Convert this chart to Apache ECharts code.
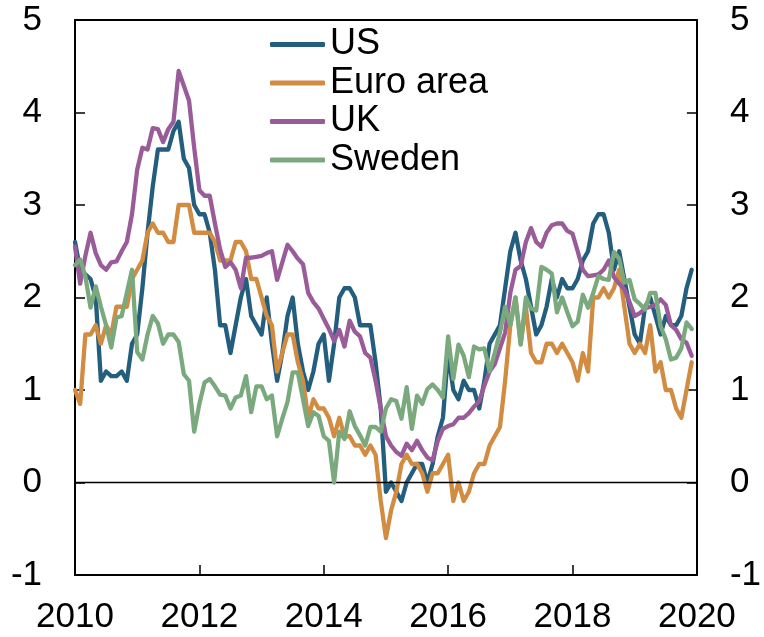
<!DOCTYPE html>
<html>
<head>
<meta charset="utf-8">
<script src="https://cdn.jsdelivr.net/npm/echarts@6/dist/echarts.min.js"></script>
<style>
  html, body { margin: 0; padding: 0; background: #ffffff; }
  #chart { width: 764px; height: 637px; }
</style>
</head>
<body>
<div id="chart"></div>
<script>
// monthly inflation, Jan 2010 .. Dec 2019 (per cent, year on year)
const startYear = 2010;
const yearTicks = ["2010", "2012", "2014", "2016", "2018", "2020"];
const valueTicks = [-1, 0, 1, 2, 3, 4, 5];

const us = [
  2.6, 2.3, 2.25, 2.2, 2.0, 1.1, 1.2, 1.15, 1.15, 1.2, 1.1, 1.5,
  1.6, 2.1, 2.7, 3.2, 3.6, 3.6, 3.6, 3.8, 3.9, 3.5, 3.4, 3.0,
  2.9, 2.9, 2.7, 2.3, 1.7, 1.7, 1.4, 1.7, 2.0, 2.2, 1.8, 1.7,
  1.6, 2.0, 1.5, 1.1, 1.4, 1.8, 2.0, 1.5, 1.2, 1.0, 1.2, 1.5,
  1.6, 1.1, 1.5, 2.0, 2.1, 2.1, 2.0, 1.7, 1.7, 1.7, 1.3, 0.8,
  -0.1, 0.0, -0.1, -0.2, 0.0, 0.1, 0.2, 0.2, 0.0, 0.2, 0.5, 0.7,
  1.4, 1.0, 0.9, 1.1, 1.0, 1.0, 0.8, 1.1, 1.5, 1.6, 1.7, 2.1,
  2.5, 2.7, 2.4, 2.2, 1.9, 1.6, 1.7, 1.9, 2.2, 2.0, 2.2, 2.1,
  2.1, 2.2, 2.4, 2.5, 2.8, 2.9, 2.9, 2.7, 2.3, 2.5, 2.2, 1.9,
  1.6, 1.5, 1.9, 2.0, 1.8, 1.6, 1.8, 1.7, 1.7, 1.8, 2.1, 2.3
];

const euroArea = [
  1.0, 0.85, 1.6, 1.6, 1.7, 1.5, 1.7, 1.6, 1.9, 1.9, 1.9, 2.2,
  2.3, 2.4, 2.7, 2.8, 2.7, 2.7, 2.6, 2.6, 3.0, 3.0, 3.0, 2.7,
  2.7, 2.7, 2.7, 2.6, 2.4, 2.4, 2.4, 2.6, 2.6, 2.5, 2.2, 2.2,
  2.0, 1.8, 1.7, 1.2, 1.4, 1.6, 1.6, 1.3, 1.1, 0.7, 0.9, 0.8,
  0.8, 0.7, 0.5, 0.7, 0.5, 0.5, 0.4, 0.4, 0.3, 0.4, 0.3, -0.2,
  -0.6, -0.3, -0.1, 0.2, 0.3, 0.2, 0.2, 0.1, -0.1, 0.1, 0.1, 0.2,
  0.3, -0.2, 0.0, -0.2, -0.1, 0.1, 0.2, 0.2, 0.4, 0.5, 0.6, 1.1,
  1.7, 2.0, 1.5, 1.9, 1.4, 1.3, 1.3, 1.5, 1.5, 1.4, 1.5, 1.4,
  1.3, 1.1, 1.4, 1.2, 2.0, 2.0, 2.1, 2.0, 2.1, 2.3, 1.9, 1.5,
  1.4, 1.5, 1.4, 1.7, 1.2, 1.3, 1.0, 1.0, 0.8, 0.7, 1.0, 1.3
];

const uk = [
  2.55, 2.15, 2.45, 2.7, 2.48, 2.35, 2.3, 2.38, 2.39, 2.5, 2.6, 2.9,
  3.38, 3.62, 3.6, 3.83, 3.82, 3.68, 3.82, 3.9, 4.45, 4.29, 4.13, 3.62,
  3.16, 3.1, 3.1, 2.8, 2.52, 2.33, 2.38, 2.3, 2.1, 2.43, 2.43, 2.44,
  2.45, 2.48, 2.5, 2.19, 2.38, 2.57, 2.5, 2.42, 2.36, 2.05, 1.95, 1.88,
  1.77, 1.66, 1.53, 1.65, 1.47, 1.75, 1.63, 1.58, 1.4, 1.35, 1.1, 0.8,
  0.5, 0.4, 0.33, 0.29, 0.42, 0.35, 0.45, 0.35, 0.27, 0.24, 0.45, 0.58,
  0.61, 0.63, 0.7, 0.7, 0.75, 0.82, 0.88, 1.05, 1.2, 1.28, 1.45, 1.62,
  2.05, 2.3, 2.34, 2.6, 2.75, 2.6, 2.55, 2.7, 2.78, 2.8, 2.8, 2.72,
  2.69, 2.5, 2.3, 2.23, 2.24, 2.25, 2.3, 2.4, 2.22, 2.15, 2.09, 1.95,
  1.8, 1.83, 1.88, 1.9, 1.92, 1.98, 1.92, 1.7, 1.65, 1.55, 1.51, 1.37
];

const sweden = [
  2.35, 2.41, 2.23, 1.89, 2.12, 1.9, 1.7, 1.46, 1.78, 1.8, 2.05, 2.3,
  1.41, 1.33, 1.6, 1.8, 1.72, 1.5, 1.6, 1.6, 1.52, 1.17, 1.1, 0.55,
  0.85, 1.08, 1.12, 1.04, 0.95, 0.94, 0.8, 0.92, 0.94, 1.15, 0.76, 1.04,
  1.04, 0.9, 0.94, 0.5, 0.69, 0.87, 1.19, 1.19, 0.9, 0.61, 0.76, 0.72,
  0.5, 0.45, 0.0, 0.55, 0.47, 0.77, 0.61, 0.51, 0.4, 0.6, 0.6, 0.55,
  0.8, 0.9, 0.88, 0.69, 1.03, 0.58, 0.94, 0.85, 1.01, 1.06, 1.0, 0.92,
  1.58, 1.12, 1.49, 1.37, 1.14, 1.47, 1.44, 1.45, 1.2, 1.4, 1.62, 1.9,
  1.7, 2.0, 1.49, 2.0, 1.88, 1.86, 2.33, 2.3, 2.26, 1.84, 2.0, 1.84,
  1.69, 1.74, 2.03, 1.89, 2.05, 2.23, 2.2, 2.19, 2.49, 2.42, 2.16, 2.19,
  1.98, 1.93, 1.87, 2.05, 2.05, 1.69, 1.55, 1.33, 1.35, 1.45, 1.73, 1.66
];

const seriesDefs = [
  ["US", us, "#235e7e"],
  ["Euro area", euroArea, "#d28c42"],
  ["UK", uk, "#9a5b99"],
  ["Sweden", sweden, "#7ba97e"]
];

const font = "'Liberation Sans', Arial, sans-serif";
const black = "#000000";

// month index -> decimal year on the x axis
function toPoints(values) {
  return values.map((v, i) => [startYear + i / 12, v]);
}

function yAxis(position) {
  return {
    type: "value",
    position,
    min: valueTicks[0],
    max: valueTicks[valueTicks.length - 1],
    interval: 1,
    axisLine: { show: true, lineStyle: { color: black, width: 2 } },
    axisTick: { show: true, inside: true, length: 10, lineStyle: { color: black, width: 1.5 } },
    axisLabel: { show: true, margin: 33, fontSize: 35, color: black, fontFamily: font },
    splitLine: { show: false }
  };
}

function xAxis(position, labels) {
  return {
    type: "value",
    position,
    min: Number(yearTicks[0]),
    max: Number(yearTicks[yearTicks.length - 1]),
    interval: 2,
    axisLine: { show: true, onZero: false, lineStyle: { color: black, width: 2 } },
    axisTick: { show: labels, inside: true, length: 10, lineStyle: { color: black, width: 1.5 } },
    axisLabel: {
      show: labels,
      margin: 25,
      fontSize: 35,
      color: black,
      fontFamily: font,
      formatter: (v) => String(Math.round(v))
    },
    splitLine: { show: false }
  };
}

const series = seriesDefs.map(([name, values, color], index) => ({
  name,
  type: "line",
  data: toPoints(values),
  xAxisIndex: 0,
  yAxisIndex: 0,
  symbol: "none",
  smooth: false,
  z: 3 + index,
  lineStyle: { color, width: 4.3, join: "round", cap: "round" },
  itemStyle: { color }
}));

// zero line, under the other series
series[0].markLine = {
  silent: true,
  symbol: ["none", "none"],
  label: { show: false },
  lineStyle: { color: black, width: 1.3, type: "solid" },
  data: [{ yAxis: 0 }],
  animation: false
};

const chart = echarts.init(document.getElementById("chart"), null, { renderer: "canvas" });

chart.setOption({
  animation: false,
  backgroundColor: "#ffffff",
  grid: { left: 75, right: 61, top: 20, bottom: 62, containLabel: false },
  legend: {
    orient: "vertical",
    left: 270,
    top: 26,
    padding: 0,
    icon: "roundRect",
    itemWidth: 55,
    itemHeight: 5,
    itemGap: 1.5,
    textStyle: { fontSize: 36, color: black, fontFamily: font, lineHeight: 37 },
    data: seriesDefs.map(([name]) => name)
  },
  xAxis: [xAxis("bottom", true), xAxis("top", false)],
  yAxis: [yAxis("left"), yAxis("right")],
  series
});
</script>
</body>
</html>
